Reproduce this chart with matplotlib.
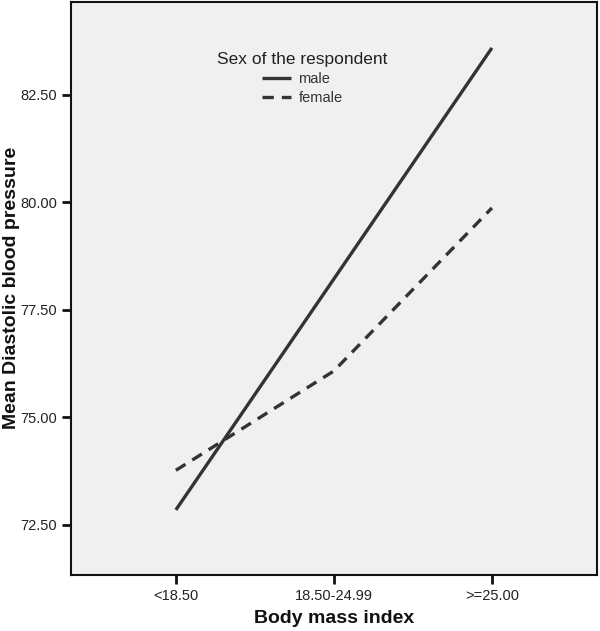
import matplotlib.pyplot as plt

plt.rcParams['font.family'] = ['Liberation Sans', 'DejaVu Sans']

# Data
bmi_groups = ["<18.50", "18.50-24.99", ">=25.00"]
male_bp = [72.85, 78.22, 83.59]
female_bp = [73.77, 76.08, 79.87]
y_ticks = [72.5, 75.0, 77.5, 80.0, 82.5]

fig = plt.figure(figsize=(6, 6.31), dpi=100)
ax = fig.add_axes([0.118, 0.089, 0.877, 0.908])
ax.set_facecolor("#f0f0f0")

x = range(len(bmi_groups))
ax.plot(x, male_bp, color="#333333", lw=2.4, solid_capstyle="butt", label="male")
ax.plot(x, female_bp, color="#333333", lw=2.4, dashes=(3.4, 2.4),
        dash_capstyle="butt", label="female")

ax.set_xlim(-0.665, 2.665)
ax.set_ylim(71.34, 84.66)
ax.set_xticks(list(x))
ax.set_xticklabels(bmi_groups)
ax.set_yticks(y_ticks)
ax.set_yticklabels([f"{v:.2f}" for v in y_ticks])
ax.tick_params(direction="out", length=6.5, width=2, labelsize=10.5,
               colors="#111111", labelcolor="#222222")

for s in ax.spines.values():
    s.set_linewidth(1.5)
    s.set_color("#111111")

ax.set_xlabel("Body mass index", fontsize=14, fontweight="bold", color="#111111")
ax.xaxis.set_label_coords(0.5, -0.062)
ax.set_ylabel("Mean Diastolic blood pressure", fontsize=14, fontweight="bold",
              color="#111111")
ax.yaxis.set_label_coords(-0.097, 0.5)

leg = ax.legend(title="Sex of the respondent", loc="upper center",
                bbox_to_anchor=(0.44, 0.935), frameon=False, fontsize=10.5,
                title_fontsize=12.5, handlelength=2.0, handletextpad=0.5,
                labelspacing=0.35)
leg.get_title().set_color("#222222")
for t in leg.get_texts():
    t.set_color("#333333")

plt.savefig("out.png", dpi=100)
